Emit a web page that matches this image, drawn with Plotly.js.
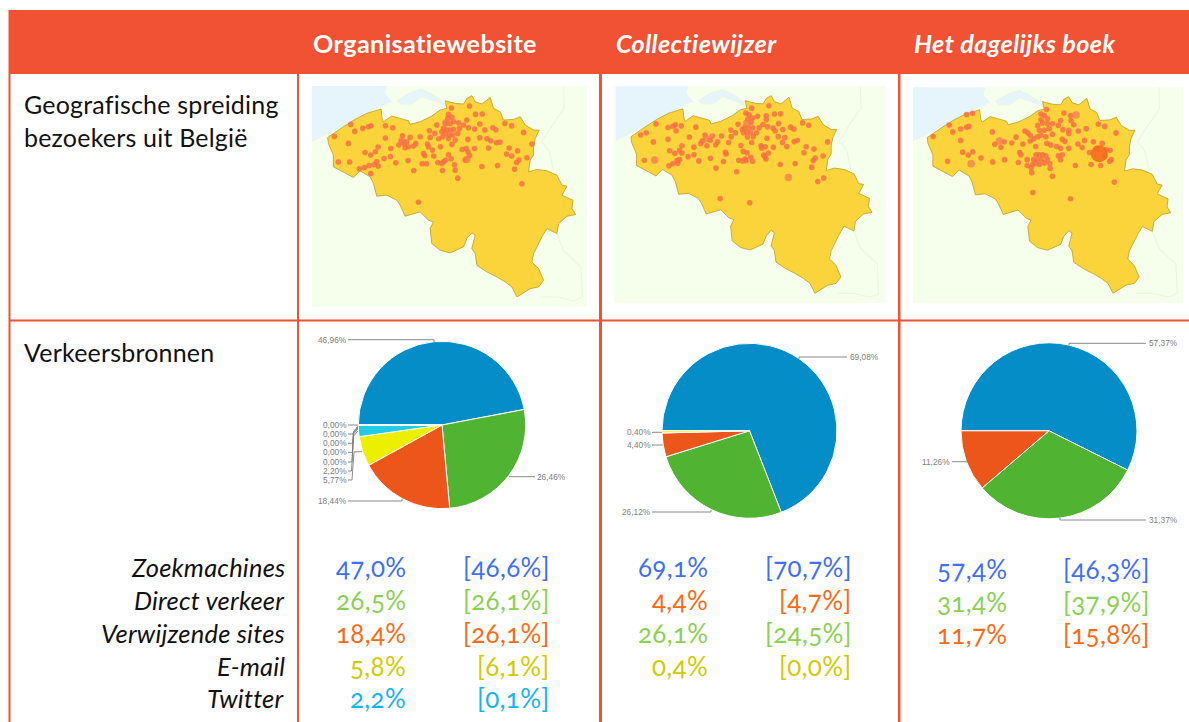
<!DOCTYPE html>
<html><head><meta charset="utf-8">
<script src="https://cdn.plot.ly/plotly-3.0.1.min.js"></script>
<style>html,body{margin:0;padding:0;background:#fff}
text{font-feature-settings:"onum" 1;font-variant-numeric:oldstyle-nums}
text[style*="font-size: 25.2px"]{letter-spacing:.4px}
text[style*="font-size: 25px"]{letter-spacing:.2px}
text[style*="font-size: 25.5px"]{letter-spacing:.2px}
text[style*="font-size: 26px"]{letter-spacing:.3px}
</style>
</head><body><div id="c" style="width:1189px;height:722px"></div>
<script>
// ---- DATA ----
const columns = ["Organisatiewebsite","Collectiewijzer","Het dagelijks boek"];
const rowLabels = ["Geografische spreiding<br>bezoekers uit België","Verkeersbronnen"];
const sources = ["Zoekmachines","Direct verkeer","Verwijzende sites","E-mail","Twitter"];

const pie1Values = [46.96,26.46,18.44,5.77,2.20,0.005,0.005,0.005,0.005,0.005];
const pie1Colors = ["#058dc7","#50b432","#ed561b","#edef00","#24cbe5","#64e572","#ff9655","#fff263","#6af9c4","#b2deff"];
const pie2Values = [69.08,26.12,4.40,0.40];
const pie2Colors = ["#058dc7","#50b432","#ed561b","#edef00"];
const pie3Values = [57.37,31.37,11.26];
const pie3Colors = ["#058dc7","#50b432","#ed561b"];

const col1Now = ["47,0%","26,5%","18,4%","5,8%","2,2%"];
const col1Old = ["[46,6%]","[26,1%]","[26,1%]","[6,1%]","[0,1%]"];
const col1Tint = ["#3f6ff2","#8ccf55","#fb6a14","#cfcb05","#15b4ee"];
const col2Now = ["69,1%","4,4%","26,1%","0,4%"];
const col2Old = ["[70,7%]","[4,7%]","[24,5%]","[0,0%]"];
const col2Tint = ["#3f6ff2","#fb6a14","#8ccf55","#cfcb05"];
const col3Now = ["57,4%","31,4%","11,7%"];
const col3Old = ["[46,3%]","[37,9%]","[15,8%]"];
const col3Tint = ["#3f6ff2","#8ccf55","#fb6a14"];

// Belgium outline in map units
const outlineX = [83,100,130,165,200,243,246,250,275,300,325,330,360,395,420,440,435,465,490,500,515,525,545,570,580,600,610,640,660,675,700,717,705,700,700,690,685,710,740,770,785,800,785,800,818,815,826,800,775,770,740,725,700,695,715,730,715,690,650,635,615,590,560,530,525,515,525,515,500,490,450,420,395,390,400,385,360,315,300,290,260,230,220,210,180,160,140,100,100,85,83];
const outlineY = [172,160,140,118,100,87,115,125,108,115,122,133,125,108,90,85,62,70,72,55,47,65,72,52,85,95,120,118,110,135,150,150,175,200,225,240,275,268,272,285,315,318,345,352,360,385,403,408,430,460,445,470,520,545,565,600,620,625,650,620,605,590,575,555,520,505,465,458,475,500,518,510,490,445,425,420,395,408,375,360,345,348,310,290,272,292,282,260,225,190,172];
const seaX = [36,260,255,275,220,165,100,36];
const seaY = [18,18,40,65,90,120,155,185];
const estuaryX = [290,330,365,395,425,440,400,365,335,300];
const estuaryY = [62,38,28,42,62,78,62,50,72,72];
const border1X = [790,792,760,725,748,760];
const border1Y = [18,85,130,185,215,272];
const border2X = [770,790,842,846,820,770,720];
const border2Y = [460,512,560,650,662,650,650];

const dots1X = [103,152,164,188,205,213,256,278,145,195,212,226,234,256,272,271,252,230,222,234,207,193,178,212,115,149,287,324,341,366,379,355,307,330,347,360,340,325,315,296,305,320,313,388,390,382,385,397,370,374,401,413,421,404,410,416,430,437,425,445,453,427,463,465,473,454,508,526,546,445,443,455,437,450,460,430,440,450,460,425,435,447,458,428,445,465,455,473,478,475,490,505,523,500,539,554,578,587,614,634,670,539,560,572,589,599,503,486,498,523,565,627,652,619,634,656,649,680,695,643,592,545,665,508,503,495];
const dots1Y = [169,133,154,145,140,137,137,143,190,217,225,215,201,174,205,229,235,244,253,258,256,262,266,280,246,246,248,241,271,251,251,366,167,172,190,170,198,200,203,195,185,185,192,152,172,192,200,210,220,226,228,247,200,160,135,176,245,240,250,224,236,271,254,270,294,84,78,103,102,103,115,112,130,130,125,145,150,150,148,155,160,165,165,170,175,180,193,160,145,128,135,143,147,120,132,150,143,149,130,137,157,173,176,182,188,186,178,208,205,205,204,204,212,222,228,240,247,233,192,267,256,259,311,226,215,240];
const big1X = [500,437,305];
const big1Y = [238,128,183];

const dots2X = [113,130,160,197,212,220,238,222,283,152,197,263,202,218,233,240,240,277,277,259,233,225,227,212,200,124,292,328,345,368,358,409,449,311,334,362,350,344,317,298,303,328,391,405,392,384,422,374,376,413,429,441,415,427,437,452,458,435,455,508,525,544,437,447,458,473,500,500,443,453,432,445,458,426,440,452,470,430,442,460,455,478,490,504,521,527,538,551,575,585,612,631,537,557,550,563,586,596,689,623,647,616,651,645,675,640,589,543,659,677,502,484,497,522,486,507,492,499,496];
const dots2Y = [167,160,133,144,140,136,139,154,143,188,180,173,215,223,214,200,222,204,227,233,242,245,253,255,261,244,246,238,268,248,361,279,374,167,170,170,188,197,200,193,185,183,152,160,172,190,199,220,225,134,217,221,244,246,245,235,247,240,85,78,103,102,100,105,115,110,108,120,118,128,145,145,145,150,158,160,160,160,173,172,190,145,135,142,146,154,132,150,143,149,130,137,172,175,190,202,187,184,188,203,210,221,237,245,231,265,254,257,309,298,177,200,203,204,207,222,228,240,233];
const big2X = [156,568,315,440];
const big2Y = [243,297,178,130];

const dots3X = [101,150,161,185,203,210,203,221,282,185,145,191,208,222,247,283,319,361,405,520,654,465,289,308,318,341,354,375,365,369,381,390,397,397,408,414,388,388,400,402,415,425,435,445,408,420,432,450,413,425,440,405,457,458,447,430,440,450,430,420,435,450,465,425,440,455,430,445,420,465,448,460,478,490,483,497,515,515,490,500,520,522,530,544,568,605,625,659,495,503,515,543,556,563,590,617,578,600,630,641,483,495,490,535,583,612,645,640,625];
const dots3Y = [169,134,155,146,141,138,102,98,155,181,245,217,226,216,235,247,240,249,341,360,309,291,193,202,185,189,171,192,218,225,152,158,165,183,176,200,240,258,265,280,225,225,225,228,240,240,240,240,252,255,250,255,253,267,86,100,105,115,118,135,128,130,130,150,150,145,165,170,170,162,190,195,200,205,135,148,150,160,120,97,105,120,133,152,145,131,138,158,178,184,205,192,203,181,185,190,218,205,210,211,228,225,240,258,255,258,240,245,230];
const big3X = [217,303,537];
const big3Y = [253,183,103];
const giant3X = [608];
const giant3Y = [222];

// Pie labels
const pie1Labels = ["46,96%","26,46%","18,44%","0,00%","0,00%","0,00%","0,00%","0,00%","2,20%","5,77%"];
const pie2Labels = ["69,08%","26,12%","4,40%","0,40%"];
const pie3Labels = ["57,37%","31,37%","11,26%"];

// ---- LAYOUT HELPERS ----
const W=1189,H=722;
const fx=x=>x/W, fy=y=>1-y/H;
const RED="#f15233";
const mainFont='Lato, "Noto Sans", sans-serif';
const traces=[], shapes=[], annotations=[];

function text(x,y,t,opt={}){
  annotations.push(Object.assign({xref:'paper',yref:'paper',x:fx(x),y:fy(y),text:t,showarrow:false,
    xanchor:opt.anchor||'left',yanchor:'middle',
    font:{family:opt.family||mainFont,size:opt.size||24,color:opt.color||'#111'}},opt.extra||{}));
}
function rect(x0,y0,x1,y1,c){shapes.push({type:'rect',xref:'paper',yref:'paper',x0:fx(x0),x1:fx(x1),y0:fy(y0),y1:fy(y1),fillcolor:c,line:{width:0},layer:'above'});}
function path(pts){
  const d=pts.map((p,i)=>(i?'L':'M')+fx(p[0])+' '+fy(p[1])).join(' ');
  shapes.push({type:'path',xref:'paper',yref:'paper',path:d,line:{color:'#7d7d7d',width:0.9},layer:'above'});
}

// table chrome
rect(10,10,1189,74,RED);
rect(8.5,10,10.5,722,RED);
rect(297,74,299,722,RED);
rect(599,74,602,722,RED);
rect(898,74,900.5,722,RED);
rect(10,319.5,1189,321.5,RED);

// maps
const mapBoxes=[
 {s:'',   px:[312,587], py:[86,307], rx:[36,860], ry:[680,18], dots:[dots1X,dots1Y], big:[big1X,big1Y]},
 {s:'2',  px:[614,886], py:[86,303], rx:[30.6,869], ry:[679.6,17.4], dots:[dots2X,dots2Y], big:[big2X,big2Y]},
 {s:'3',  px:[913,1183],py:[87,303], rx:[39.4,863.6], ry:[679.8,17.2], dots:[dots3X,dots3Y], big:[big3X,big3Y], giant:[giant3X,giant3Y]}
];
const layoutAxes={};
mapBoxes.forEach(m=>{
  const ax={xaxis:'x'+m.s,yaxis:'y'+m.s,hoverinfo:'skip',showlegend:false};
  layoutAxes['xaxis'+m.s]={domain:[fx(m.px[0]),fx(m.px[1])],range:m.rx,visible:false,fixedrange:true,anchor:'y'+m.s};
  layoutAxes['yaxis'+m.s]={domain:[fy(m.py[1]),fy(m.py[0])],range:m.ry,visible:false,fixedrange:true,anchor:'x'+m.s};
  shapes.push({type:'rect',xref:'x'+m.s+' domain',yref:'y'+m.s+' domain',x0:0,x1:1,y0:0,y1:1,fillcolor:'#f6ffec',line:{width:0},layer:'below'});
  traces.push(Object.assign({x:seaX,y:seaY,mode:'lines',fill:'toself',fillcolor:'#e6f5fc',line:{width:0}},ax));
  traces.push(Object.assign({x:estuaryX,y:estuaryY,mode:'lines',fill:'toself',fillcolor:'#e6f5fc',line:{color:'#ecf5e2',width:1}},ax));
  traces.push(Object.assign({x:border1X,y:border1Y,mode:'lines',line:{color:'#ecf5e2',width:1.2}},ax));
  traces.push(Object.assign({x:border2X,y:border2Y,mode:'lines',line:{color:'#ecf5e2',width:1.2}},ax));
  traces.push(Object.assign({x:outlineX,y:outlineY,mode:'lines',fill:'toself',fillcolor:'#fbd43b',line:{color:'#b8a02c',width:0.8}},ax));
  traces.push(Object.assign({x:m.dots[0],y:m.dots[1],mode:'markers',marker:{size:5.6,color:'rgba(247,110,70,0.82)',line:{width:0}}},ax));
  traces.push(Object.assign({x:m.big[0],y:m.big[1],mode:'markers',marker:{size:7.5,color:'rgba(247,120,80,0.75)',line:{width:0}}},ax));
  if(m.giant) traces.push(Object.assign({x:m.giant[0],y:m.giant[1],mode:'markers',marker:{size:17,color:'rgba(247,105,30,0.9)',line:{width:0}}},ax));
});

// pies
function pie(vals,cols,cx,cy,r){
  traces.push({type:'pie',values:vals,marker:{colors:cols,line:{color:'#fff',width:1}},sort:false,direction:'clockwise',rotation:270,
    textinfo:'none',hoverinfo:'skip',showlegend:false,
    domain:{x:[fx(cx-r),fx(cx+r)],y:[fy(cy+r),fy(cy-r)]}});
}
pie(pie1Values,pie1Colors,442,425,83.7);
pie(pie2Values,pie2Colors,749.5,430.8,87.5);
pie(pie3Values,pie3Colors,1049,430.8,88);

const lab={family:'"Liberation Sans", Arial, sans-serif',size:8.3,color:'#808080'};
const labR=(x,y,t)=>text(x+3,y,t,{family:lab.family,size:lab.size,color:lab.color,anchor:'right'});
const labL=(x,y,t)=>text(x-2,y,t,{family:lab.family,size:lab.size,color:lab.color,anchor:'left'});
// pie 1 labels and leaders
labR(346,339.7,pie1Labels[0]); path([[348,339.7],[434,339.7],[434,342]]);
labL(537,476.7,pie1Labels[1]); path([[509,476.7],[535,476.7]]);
labR(346,501,pie1Labels[2]);   path([[348,501],[402,501],[402,499]]);
const smallY=[425,434,443.3,452.3,462,471,480];
smallY.forEach((y,i)=>labR(346,y,pie1Labels[3+i]));
path([[348,425],[358,425]]);
path([[348,434],[353,434],[354,431],[358,426]]);
path([[348,443.3],[352.5,443.3],[353.5,432],[358,427]]);
path([[348,452.3],[352.5,452.3],[353.5,433],[358,428]]);
path([[348,462],[352,462],[353.5,434],[358,429]]);
path([[348,471],[351.5,471],[353.5,436],[358,431]]);
path([[348,480],[352,480],[354,452],[362,451.5]]);
// pie 2
labL(849.5,357,pie2Labels[0]); path([[799,359],[799,357],[847,357]]);
labR(650,512,pie2Labels[1]);   path([[652,512],[711,512],[711,510]]);
labR(650,445,pie2Labels[2]);   path([[652,445],[663,445]]);
labR(650,432.3,pie2Labels[3]); path([[652,432.3],[662,432.3]]);
// pie 3
labL(1149,343.3,pie3Labels[0]); path([[1069,345],[1069,343.3],[1146,343.3]]);
labL(1149,520,pie3Labels[1]);   path([[1060,518],[1060,520],[1146,520]]);
labR(949,461.7,pie3Labels[2]);  path([[952,461.7],[967,461.7]]);

// header
text(311,43,'<b>'+columns[0]+'</b>',{color:'#fff',size:25.2});
text(614,43,'<b><i>'+columns[1]+'</i></b>',{color:'#fff',size:25.2});
text(912,43,'<b><i>'+columns[2]+'</i></b>',{color:'#fff',size:25.2});
// row labels
annotations.push({xref:'paper',yref:'paper',x:fx(21.5),y:fy(120.5),text:rowLabels[0],showarrow:false,align:'left',xanchor:'left',yanchor:'middle',
  font:{family:mainFont,size:25,color:'#111'}});
text(21.5,351.5,rowLabels[1],{size:25});
// source tables
const rowsY=[566.5,599.5,632.5,665.5,697.5], rows3Y=[569,601.5,633.5];
sources.forEach((s,i)=>text(287,rowsY[i],'<i>'+s+'</i>',{anchor:'right',size:25.5}));
function col(now,old,tint,ys,xa,xb){
  now.forEach((t,i)=>{
    text(xa+3,ys[i],t,{anchor:'right',color:tint[i],size:26});
    text(xb+3,ys[i],old[i],{anchor:'right',color:tint[i],size:26});
  });
}
col(col1Now,col1Old,col1Tint,rowsY,405,549);
col(col2Now,col2Old,col2Tint,rowsY,707,851);
col(col3Now,col3Old,col3Tint,rows3Y,1006,1149);

const layout=Object.assign({width:W,height:H,margin:{l:0,r:0,t:0,b:0},paper_bgcolor:'#fff',plot_bgcolor:'rgba(0,0,0,0)',
  showlegend:false,shapes,annotations,hovermode:false},layoutAxes);
Plotly.newPlot('c',traces,layout,{displayModeBar:false,staticPlot:true});
</script></body></html>
